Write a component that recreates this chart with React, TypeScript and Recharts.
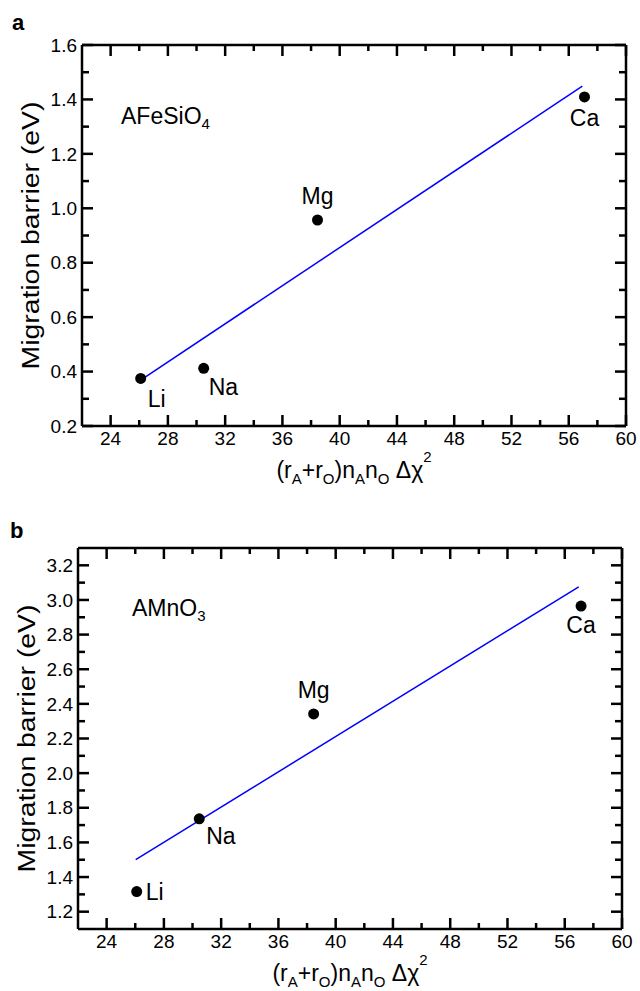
import { ReferenceLine, Scatter, ScatterChart, XAxis, YAxis } from "recharts";

const ions = ["Li", "Na", "Mg", "Ca"];

// panel a: AFeSiO4
const feSiX = [26.1, 30.5, 38.45, 57.1];
const feSiY = [0.375, 0.412, 0.957, 1.409];
const feSiFitX = [26.1, 56.95];
const feSiFitY = [0.369, 1.449];

// panel b: AMnO3
const mnX = [26.1, 30.47, 38.46, 57.14];
const mnY = [1.316, 1.736, 2.342, 2.965];
const mnFitX = [26.03, 56.98];
const mnFitY = [1.5, 3.076];

const xTicks = [24, 26, 28, 30, 32, 34, 36, 38, 40, 42, 44, 46, 48, 50, 52, 54, 56, 58, 60];
const feSiYTicks = [0.2, 0.3, 0.4, 0.5, 0.6, 0.7, 0.8, 0.9, 1.0, 1.1, 1.2, 1.3, 1.4, 1.5, 1.6];
const mnYTicks = [1.2, 1.3, 1.4, 1.5, 1.6, 1.7, 1.8, 1.9, 2.0, 2.1, 2.2, 2.3, 2.4, 2.5, 2.6, 2.7, 2.8, 2.9, 3.0, 3.1, 3.2];

const FONT = "'Liberation Sans', Arial, Helvetica, sans-serif";
const X_AXIS_H = 50;
const Y_AXIS_W = 60;

// where each ion's name sits relative to its dot
const placeA: any = {
  Li: { dx: 7, dy: 29, anchor: "start" },
  Na: { dx: 5, dy: 27, anchor: "start" },
  Mg: { dx: 0, dy: -16, anchor: "middle" },
  Ca: { dx: 0, dy: 29, anchor: "middle" },
};
const placeB: any = {
  Li: { dx: 9, dy: 8, anchor: "start" },
  Na: { dx: 7, dy: 25, anchor: "start" },
  Mg: { dx: 0, dy: -16, anchor: "middle" },
  Ca: { dx: 0, dy: 27, anchor: "middle" },
};

const isMajorX = (v: number) => v % 4 === 0;
const isMajorY = (v: number) => Math.round(v * 10) % 2 === 0;

// bottom ticks also draw the mirrored top ticks (plotH above)
const makeXTick = (plotH: number) => (p: any) => {
  const v = p.payload.value;
  const major = isMajorX(v);
  const len = major ? 11 : 6;
  const top = p.y - plotH;
  return (
    <g>
      <line x1={p.x} x2={p.x} y1={p.y} y2={p.y - len} stroke="#000" strokeWidth={2.5} />
      <line x1={p.x} x2={p.x} y1={top} y2={top + len} stroke="#000" strokeWidth={2.5} />
      {major && (
        <text x={p.x} y={p.y + 19} textAnchor="middle" fontSize={19} fontFamily={FONT} fill="#000">
          {v}
        </text>
      )}
    </g>
  );
};

// left ticks also draw the mirrored right ticks (plotW across)
const makeYTick = (plotW: number) => (p: any) => {
  const v = p.payload.value;
  const major = isMajorY(v);
  const len = major ? 11 : 7;
  const right = p.x + plotW;
  return (
    <g>
      <line x1={p.x} x2={p.x + len} y1={p.y} y2={p.y} stroke="#000" strokeWidth={2.5} />
      <line x1={right} x2={right - len} y1={p.y} y2={p.y} stroke="#000" strokeWidth={2.5} />
      {major && (
        <text x={p.x - 5} y={p.y} dy="0.35em" textAnchor="end" fontSize={19} fontFamily={FONT} fill="#000">
          {v.toFixed(1)}
        </text>
      )}
    </g>
  );
};

const xLabel = (props: any) => {
  const vb = props.viewBox;
  return (
    <text x={vb.x + vb.width / 2} y={vb.y + 52} textAnchor="middle" fontSize={23} fontFamily={FONT} fill="#000">
      (r
      <tspan fontSize={15} dy={6}>A</tspan>
      <tspan dy={-6}>+r</tspan>
      <tspan fontSize={15} dy={6}>O</tspan>
      <tspan dy={-6}>)n</tspan>
      <tspan fontSize={15} dy={6}>A</tspan>
      <tspan dy={-6}>n</tspan>
      <tspan fontSize={15} dy={6}>O</tspan>
      <tspan dy={-6}> Δχ</tspan>
      <tspan fontSize={15} dy={-16}>2</tspan>
    </text>
  );
};

const yLabel = (props: any) => {
  const vb = props.viewBox;
  const x = vb.x + vb.width - 43;
  const y = vb.y + vb.height / 2;
  return (
    <text
      x={x}
      y={y}
      transform={`rotate(-90, ${x}, ${y})`}
      textAnchor="middle"
      fontSize={23}
      fontFamily={FONT}
      fill="#000"
      textLength={268}
      lengthAdjust="spacingAndGlyphs"
    >
      Migration barrier (eV)
    </text>
  );
};

const makeDot = (place: any) => (p: any) => {
  const pl = place[p.payload.name];
  return (
    <g>
      <circle cx={p.cx} cy={p.cy} r={5.5} fill="#000" />
      <text x={p.cx + pl.dx} y={p.cy + pl.dy} textAnchor={pl.anchor} fontSize={23} fontFamily={FONT} fill="#000">
        {p.payload.name}
      </text>
    </g>
  );
};

const noShape = () => <g />;

function Panel({ xs, ys, fitX, fitY, yDomain, yTicks, height, margin, place }: any) {
  const points = ions.map((name, i) => ({ name, x: xs[i], y: ys[i] }));
  const plotH = height - margin.top - margin.bottom - X_AXIS_H - 1;
  const plotW = 640 - margin.left - margin.right - Y_AXIS_W - 1;
  return (
    <ScatterChart width={640} height={height} margin={margin}>
      <XAxis
        dataKey="x"
        type="number"
        domain={[22, 60]}
        ticks={xTicks}
        interval={0}
        height={X_AXIS_H}
        tickSize={0}
        tickMargin={0}
        tick={makeXTick(plotH)}
        axisLine={{ stroke: "#000", strokeWidth: 2.5 }}
        label={xLabel}
      />
      <XAxis
        xAxisId="top"
        orientation="top"
        dataKey="x"
        type="number"
        domain={[22, 60]}
        height={1}
        tick={false}
        tickLine={false}
        axisLine={{ stroke: "#000", strokeWidth: 2.5 }}
      />
      <YAxis
        dataKey="y"
        type="number"
        domain={yDomain}
        ticks={yTicks}
        interval={0}
        width={Y_AXIS_W}
        tickSize={0}
        tickMargin={0}
        tick={makeYTick(plotW)}
        axisLine={{ stroke: "#000", strokeWidth: 2.5 }}
        label={yLabel}
      />
      <YAxis
        yAxisId="right"
        orientation="right"
        dataKey="y"
        type="number"
        domain={yDomain}
        width={1}
        tick={false}
        tickLine={false}
        axisLine={{ stroke: "#000", strokeWidth: 2.5 }}
      />
      <ReferenceLine
        segment={[
          { x: fitX[0], y: fitY[0] },
          { x: fitX[1], y: fitY[1] },
        ]}
        stroke="#0000ff"
        strokeWidth={1.5}
        ifOverflow="visible"
      />
      {/* hidden copy so the frame axes on top/right are in use */}
      <Scatter xAxisId="top" yAxisId="right" data={points} shape={noShape} isAnimationActive={false} />
      <Scatter data={points} shape={makeDot(place)} isAnimationActive={false} />
    </ScatterChart>
  );
}

export default function App() {
  return (
    <div style={{ position: "absolute", left: 0, top: 0, width: 640, height: 991, background: "#fff" }}>
      <div style={{ position: "absolute", left: 0, top: 0 }}>
        <Panel
          xs={feSiX}
          ys={feSiY}
          fitX={feSiFitX}
          fitY={feSiFitY}
          yDomain={[0.2, 1.6]}
          yTicks={feSiYTicks}
          height={495}
          margin={{ top: 44, right: 13, bottom: 19, left: 22 }}
          place={placeA}
        />
      </div>
      <div style={{ position: "absolute", left: 0, top: 495 }}>
        <Panel
          xs={mnX}
          ys={mnY}
          fitX={mnFitX}
          fitY={mnFitY}
          yDomain={[1.1, 3.3]}
          yTicks={mnYTicks}
          height={496}
          margin={{ top: 52, right: 17, bottom: 12, left: 18 }}
          place={placeB}
        />
      </div>
      <svg
        width={640}
        height={991}
        style={{ position: "absolute", left: 0, top: 0, pointerEvents: "none" }}
        fontFamily={FONT}
      >
        <text x={12} y={30} fontSize={22} fontWeight="bold">a</text>
        <text x={121} y={124} fontSize={23}>
          AFeSiO<tspan fontSize={15} dy={5}>4</tspan>
        </text>
        <text x={10} y={538} fontSize={22} fontWeight="bold">b</text>
        <text x={132} y={616} fontSize={23}>
          AMnO<tspan fontSize={15} dy={5}>3</tspan>
        </text>
      </svg>
    </div>
  );
}
